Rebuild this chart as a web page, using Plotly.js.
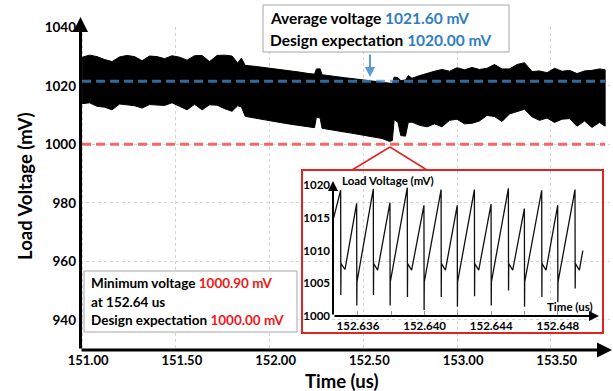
<!DOCTYPE html>
<html>
<head>
<meta charset="utf-8">
<script src="https://cdn.plot.ly/plotly-3.0.1.min.js"></script>
<style>html,body{margin:0;padding:0;background:#fff;}#chart{width:613px;height:391px;}</style>
</head>
<body>
<div id="chart"></div>
<script>
// ---- Data ----
const time = [151.00,151.04,151.08,151.12,151.16,151.20,151.24,151.28,151.32,151.36,151.40,151.44,151.48,151.52,151.56,151.60,151.64,151.68,151.72,151.76,151.80,151.83,151.85,151.87,151.92,151.96,152.00,152.04,152.08,152.12,152.16,152.20,152.24,152.25,152.27,152.28,152.32,152.36,152.40,152.44,152.48,152.52,152.56,152.60,152.64,152.655,152.665,152.685,152.70,152.725,152.74,152.76,152.80,152.84,152.88,152.92,152.96,153.00,153.04,153.08,153.12,153.16,153.20,153.24,153.28,153.32,153.36,153.40,153.44,153.48,153.52,153.56,153.60,153.64,153.68,153.72,153.76,153.79];
const upperVoltage = [1029.8,1030.5,1030.0,1029.0,1028.3,1029.9,1030.4,1030.0,1028.6,1030.2,1030.0,1029.3,1030.3,1029.8,1028.8,1030.3,1030.4,1028.3,1030.4,1030.5,1030.2,1027.8,1029.5,1027.0,1026.7,1026.4,1026.0,1025.7,1025.3,1025.0,1024.7,1024.3,1024.0,1025.8,1025.8,1023.8,1023.4,1023.1,1022.8,1022.5,1022.2,1021.9,1021.6,1021.3,1020.9,1020.8,1023.0,1022.8,1021.8,1022.0,1023.5,1022.6,1023.5,1024.3,1025.0,1025.6,1025.0,1026.2,1025.5,1026.3,1025.6,1026.0,1027.3,1025.8,1025.8,1027.3,1027.9,1024.9,1025.1,1024.5,1026.0,1025.0,1025.3,1024.2,1025.1,1025.3,1025.8,1025.5];
const lowerVoltage = [1013.9,1014.2,1013.0,1012.7,1011.8,1013.8,1013.5,1013.2,1012.4,1013.6,1013.5,1013.3,1014.2,1013.0,1011.8,1013.7,1011.8,1013.5,1013.4,1012.2,1011.3,1013.2,1012.8,1009.6,1009.0,1008.6,1008.0,1007.6,1007.2,1006.8,1006.4,1006.0,1005.7,1009.3,1009.0,1005.5,1005.0,1004.6,1004.2,1003.8,1003.4,1003.0,1002.5,1002.0,1001.0,1001.3,1008.5,1007.5,1003.0,1002.8,1007.5,1007.6,1006.5,1006.0,1007.0,1006.0,1008.2,1008.6,1007.0,1007.2,1008.0,1009.9,1009.5,1007.8,1010.4,1011.2,1012.0,1009.4,1008.2,1009.0,1007.5,1008.6,1008.8,1006.2,1008.0,1005.8,1007.5,1006.2];

const averageVoltage = 1021.6;
const designExpectation = 1020.0;
const minimumVoltage = 1000.9;
const minimumTime = 152.64;
const minDesignExpectation = 1000.0;

const insetTime = [152.63450,
 152.63496,152.63497,152.63498,152.63522,
 152.63592,152.63593,152.63594,
 152.63692,152.63693,152.63694,152.63718,
 152.63792,152.63793,152.63794,
 152.63896,152.63897,152.63898,152.63922,
 152.63996,152.63997,152.63998,
 152.64099,152.64100,152.64101,152.64125,
 152.64196,152.64197,152.64198,
 152.64299,152.64300,152.64301,152.64325,
 152.64399,152.64400,152.64401,
 152.64503,152.64504,152.64505,152.64529,
 152.64599,152.64600,152.64601,
 152.64703,152.64704,152.64705,152.64729,
 152.64799,152.64800,152.64801,
 152.64903,152.64904,152.64905,152.64929,
 152.64950];
const insetVoltage = [1014.6,
 1019.2,1003.2,1008.0,1007.1,
 1017.2,1001.6,1005.2,
 1019.4,1003.2,1008.0,1007.0,
 1017.3,1001.6,1005.2,
 1019.6,1002.9,1008.0,1007.0,
 1016.9,1000.9,1005.2,
 1019.3,1002.9,1008.0,1007.0,
 1016.9,1001.4,1005.2,
 1019.3,1003.0,1008.0,1007.0,
 1017.1,1001.6,1005.2,
 1019.5,1003.9,1008.0,1007.0,
 1016.4,1001.4,1005.2,
 1019.2,1002.9,1008.0,1007.0,
 1016.9,1002.1,1005.2,
 1019.3,1004.2,1008.0,1007.0,
 1010.0];

const xTickValues = [151.0,151.5,152.0,152.5,153.0,153.5];
const yTickValues = [940,960,980,1000,1020,1040];
const insetYTickValues = [1000,1005,1010,1015,1020];

// ---- Layout helpers (pixel -> paper) ----
const W = 613, H = 391, ML = 80, MR = 3, MT = 27, MB = 41;
const PW = W - ML - MR, PH = H - MT - MB;
const px = x => (x - ML) / PW;
const py = y => (H - MB - y) / PH;

const FONT = 'Lato, "Open Sans", sans-serif';
const BLUE_TXT = '#2e7ec2';
const RED_TXT = '#f01818';

// ---- Traces ----
const band = {
  x: time.concat(time.slice().reverse()),
  y: upperVoltage.concat(lowerVoltage.slice().reverse()),
  type: 'scatter', mode: 'lines', fill: 'toself',
  fillcolor: '#000', line: {color: '#000', width: 1},
  xaxis: 'x', yaxis: 'y', hoverinfo: 'skip'
};
const avgLine = {
  x: [time[0], time[time.length-1]], y: [averageVoltage, averageVoltage],
  type: 'scatter', mode: 'lines',
  line: {color: 'rgba(70,140,210,0.75)', width: 3, dash: '9px,5px'},
  xaxis: 'x', yaxis: 'y'
};
const minLine = {
  x: [time[0], time[time.length-1]], y: [minDesignExpectation, minDesignExpectation],
  type: 'scatter', mode: 'lines',
  line: {color: '#f06868', width: 3, dash: '9px,5px'},
  xaxis: 'x', yaxis: 'y'
};
const inset = {
  x: insetTime, y: insetVoltage, type: 'scatter', mode: 'lines',
  line: {color: '#111', width: 1.3},
  xaxis: 'x2', yaxis: 'y2'
};

function textAnn(x, y, text, size, opts) {
  return Object.assign({
    xref: 'paper', yref: 'paper', x: px(x), y: py(y),
    text: text, showarrow: false, xanchor: 'left', yanchor: 'middle',
    font: {family: FONT, size: size, color: '#000'}
  }, opts || {});
}
function arrowAnn(xTip, yTip, ax, ay, width, color, size) {
  return {
    xref: 'paper', yref: 'paper', x: px(xTip), y: py(yTip),
    ax: ax, ay: ay, axref: 'pixel', ayref: 'pixel',
    text: '', showarrow: true, arrowhead: 2, arrowsize: size,
    arrowwidth: width, arrowcolor: color
  };
}

const annotations = [
  // axis titles
  textAnn(25, 186, '<b>Load Voltage (mV)</b>', 18.5, {xanchor: 'center', textangle: -90}),
  textAnn(342, 381, '<b>Time (us)</b>', 18.5, {xanchor: 'center'}),
  // main axis arrows
  arrowAnn(80.5, 17, 0, 333, 3, '#000', 1),
  arrowAnn(612, 350, -532, 0, 3, '#000', 1),
  // top box text
  textAnn(268, 18, '<b>Average voltage <span style="color:' + BLUE_TXT + '">' + averageVoltage.toFixed(2) + ' mV</span></b>', 15.5),
  textAnn(268, 40, '<b>Design expectation <span style="color:' + BLUE_TXT + '">' + designExpectation.toFixed(2) + ' mV</span></b>', 15.5),
  arrowAnn(370, 77, 0, -24, 2, '#5b9bd5', 1),
  // bottom-left box text
  textAnn(89, 283, '<b>Minimum voltage <span style="color:' + RED_TXT + '">' + minimumVoltage.toFixed(2) + ' mV</span></b>', 13.5),
  textAnn(89, 302, '<b>at ' + minimumTime.toFixed(2) + ' us</b>', 13.5),
  textAnn(89, 320, '<b>Design expectation <span style="color:' + RED_TXT + '">' + minDesignExpectation.toFixed(2) + ' mV</span></b>', 13.5),
  // inset axes + titles
  arrowAnn(333, 181, 0, 135, 2, '#000', 1),
  arrowAnn(599, 316, -266, 0, 2, '#000', 1),
  textAnn(340, 181, '<b>Load Voltage (mV)</b>', 11.5),
  textAnn(595, 306, '<b>Time (us)</b>', 11.5, {xanchor: 'right'})
];

const shapes = [
  {type: 'rect', xref: 'paper', yref: 'paper', x0: px(263), x1: px(509), y0: py(5), y1: py(52),
   line: {color: '#a6a6a6', width: 1}, fillcolor: '#fff', layer: 'above'},
  {type: 'rect', xref: 'paper', yref: 'paper', x0: px(84), x1: px(297), y0: py(271), y1: py(332),
   line: {color: '#a6a6a6', width: 1}, fillcolor: '#fff', layer: 'above'},
  {type: 'rect', xref: 'paper', yref: 'paper', x0: px(302), x1: px(603), y0: py(170), y1: py(333),
   line: {color: '#e02424', width: 2}, fillcolor: 'rgba(0,0,0,0)', layer: 'above'},
  {type: 'line', xref: 'paper', yref: 'paper', x0: px(390), y0: py(147), x1: px(352), y1: py(170),
   line: {color: '#e02424', width: 1.5}, layer: 'above'},
  {type: 'line', xref: 'paper', yref: 'paper', x0: px(390), y0: py(147), x1: px(427), y1: py(170),
   line: {color: '#e02424', width: 1.5}, layer: 'above'}
];

const layout = {
  width: W, height: H,
  margin: {l: ML, r: MR, t: MT, b: MB},
  paper_bgcolor: '#fff', plot_bgcolor: 'rgba(0,0,0,0)',
  showlegend: false,
  font: {family: FONT, color: '#000'},
  xaxis: {
    domain: [0, 1], range: [150.989, 153.816],
    tickmode: 'array', tickvals: xTickValues,
    ticktext: xTickValues.map(v => v.toFixed(2)),
    ticks: '', showline: false, zeroline: false,
    showgrid: true, gridcolor: '#d4d4d4', griddash: 'dot', gridwidth: 1,
    tickfont: {family: FONT, size: 13, color: '#000', weight: 'bold'},
    ticklabelshift: 6, ticklabelstandoff: 1
  },
  yaxis: {
    domain: [0, 1], range: [929.66, 1040.13],
    tickmode: 'array', tickvals: yTickValues,
    ticks: '', showline: false, zeroline: false,
    showgrid: true, gridcolor: '#d4d4d4', griddash: 'dot', gridwidth: 1,
    tickfont: {family: FONT, size: 13.5, color: '#000', weight: 'bold'},
    ticklabelstandoff: 3
  },
  xaxis2: {
    domain: [px(333), px(597)], range: [152.63450, 152.65035], anchor: 'y2',
    tickmode: 'linear', tick0: 152.636, dtick: 0.004, tickformat: '.3f',
    ticks: 'inside', ticklen: 5, tickcolor: '#999', tickwidth: 1,
    minor: {tickmode: 'linear', tick0: 152.636, dtick: 0.002, ticks: 'inside', ticklen: 5, tickcolor: '#999'},
    showgrid: false, zeroline: false, showline: false,
    tickfont: {family: FONT, size: 11.5, color: '#000', weight: 'bold'},
    ticklabelstandoff: 1
  },
  yaxis2: {
    domain: [py(316), py(182)], range: [1000, 1020.46], anchor: 'x2',
    tickmode: 'array', tickvals: insetYTickValues,
    ticks: '', showgrid: false, zeroline: false, showline: false,
    tickfont: {family: FONT, size: 11.5, color: '#000', weight: 'bold'},
    ticklabelstandoff: 2
  },
  annotations: annotations,
  shapes: shapes
};

Plotly.newPlot('chart', [band, avgLine, minLine, inset], layout, {displayModeBar: false, staticPlot: true});
</script>
</body>
</html>
